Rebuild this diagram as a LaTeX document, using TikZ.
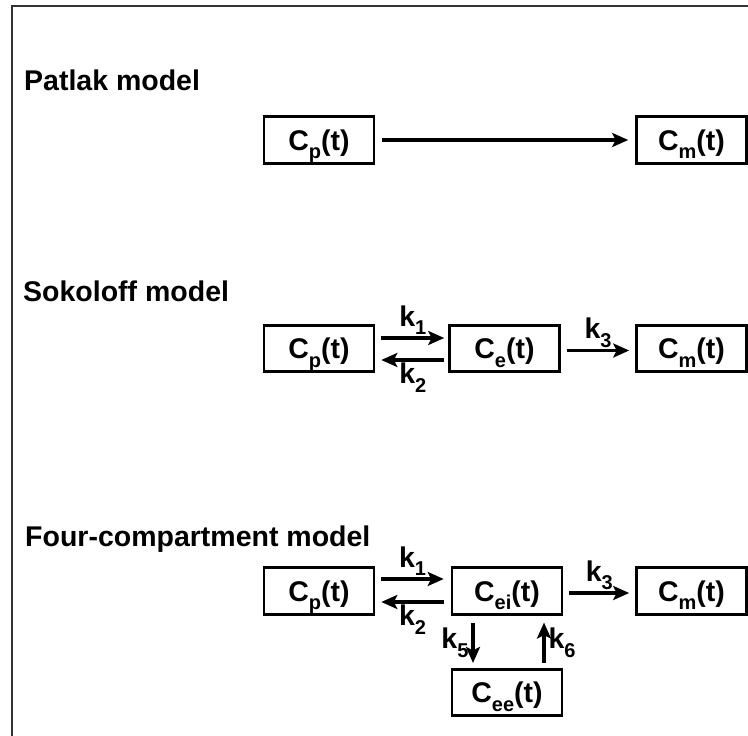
\documentclass[tikz,border=0pt]{standalone}
\usepackage{fontspec}
\setmainfont{Liberation Sans}
\usetikzlibrary{arrows.meta}
\newcommand\csub[1]{\raisebox{-0.3em}{\fontsize{20}{20}\selectfont #1}}

\begin{document}
\begin{tikzpicture}[
  x=1pt, y=-1pt,
  font=\fontsize{28.5}{30}\selectfont\bfseries,
  >={Stealth[length=16pt,width=14pt,inset=3.5pt]},
  comp/.style={draw, line width=2.6pt, minimum width=110pt,
               minimum height=46.5pt, inner sep=0pt,
               text height=20.4pt, text depth=0pt},
  flow/.style={->, line width=3.2pt},
  rate/.style={inner sep=1.5pt},
  title/.style={anchor=base west, inner sep=0pt}]
\useasboundingbox (0,0) rectangle (748,736);
\draw[line width=2pt, black!80] (12,736) |- (748,6);
% Patlak
\node[title] (ptitle) at (24,90) {Patlak model};
\node[comp] (pcp) at (319,140) {C\csub{p}(t)};
\node[comp] (pcm) at (691.5,140) {C\csub{m}(t)};
\draw[flow, shorten <=7pt, shorten >=7pt] (pcp) -- (pcm);
% Sokoloff
\node[title] (stitle) at (23,301) {Sokoloff model};
\node[comp] (scp) at (319,348.5) {C\csub{p}(t)};
\node[comp] (sce) at (504.5,348.5) {C\csub{e}(t)};
\node[comp] (scm) at (691.5,348.5) {C\csub{m}(t)};
\draw[flow] ([xshift=6pt,yshift=10.5pt]scp.east)
  -- node[rate, above] {k\csub{1}} ([xshift=-4pt,yshift=10.5pt]sce.west);
\draw[flow] ([xshift=-4pt,yshift=-11.5pt]sce.west)
  -- node[rate, below] {k\csub{2}} ([xshift=6pt,yshift=-11.5pt]scp.east);
\draw[flow] ([xshift=6pt,yshift=-2pt]sce.east)
  -- node[rate, above] {k\csub{3}} ([xshift=-6pt,yshift=-2pt]scm.west);
% four compartments
\node[title] (ftitle) at (25,546) {Four-compartment model};
\node[comp] (fcp) at (319,591) {C\csub{p}(t)};
\node[comp] (fcei) at (507,591) {C\csub{ei}(t)};
\node[comp] (fcm) at (691.5,591) {C\csub{m}(t)};
\node[comp] (fcee) at (507,692.5) {C\csub{ee}(t)};
\draw[flow] ([xshift=6pt,yshift=12pt]fcp.east)
  -- node[rate, above] {k\csub{1}} ([xshift=-7pt,yshift=12pt]fcei.west);
\draw[flow] ([xshift=-7pt,yshift=-11pt]fcei.west)
  -- node[rate, below] {k\csub{2}} ([xshift=6pt,yshift=-11pt]fcp.east);
\draw[flow] ([xshift=6pt,yshift=-2pt]fcei.east)
  -- node[rate, above] {k\csub{3}} ([xshift=-6pt,yshift=-2pt]fcm.west);
\draw[flow] ([xshift=-34pt,yshift=-7pt]fcei.south)
  -- node[rate, left, inner sep=3pt] {k\csub{5}} ([xshift=-34pt,yshift=5pt]fcee.north);
\draw[flow] ([xshift=37pt,yshift=5pt]fcee.north)
  -- node[rate, right, inner sep=3pt] {k\csub{6}} ([xshift=37pt,yshift=-7pt]fcei.south);
\end{tikzpicture}
\end{document}
